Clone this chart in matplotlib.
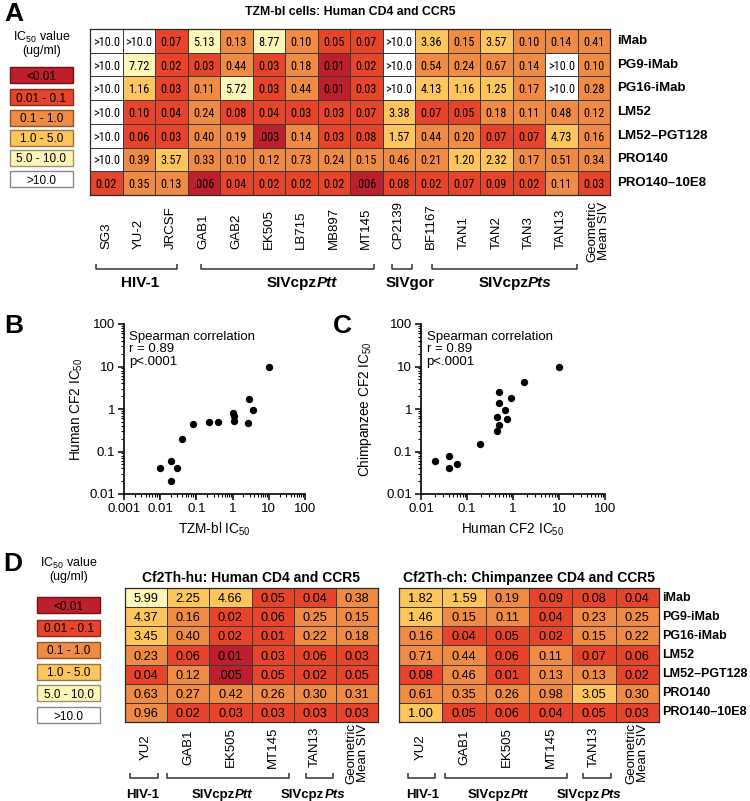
import numpy as np
import matplotlib
matplotlib.use('Agg')
import matplotlib.pyplot as plt
import matplotlib.font_manager as fm
from matplotlib.colors import ListedColormap, BoundaryNorm
from matplotlib.patches import Rectangle
from matplotlib.ticker import LogLocator, NullFormatter, FixedLocator, FuncFormatter

plt.rcParams['font.family'] = ['Liberation Sans', 'DejaVu Sans']
plt.rcParams['mathtext.fontset'] = 'custom'
plt.rcParams['mathtext.rm'] = 'Liberation Sans'
plt.rcParams['mathtext.it'] = 'Liberation Sans:italic'
plt.rcParams['mathtext.bf'] = 'Liberation Sans:bold'

W, H = 750, 801

# ---- data ----
antibodies = ['iMab', 'PG9-iMab', 'PG16-iMab', 'LM52', 'LM52\u2013PGT128', 'PRO140', 'PRO140\u201310E8']

strains_a = ['SG3', 'YU-2', 'JRCSF', 'GAB1', 'GAB2', 'EK505', 'LB715', 'MB897', 'MT145',
             'CP2139', 'BF1167', 'TAN1', 'TAN2', 'TAN3', 'TAN13', 'Geometric\nMean SIV']
tzm_a = [
    ['>10.0', '>10.0', '0.07', '5.13', '0.13', '8.77', '0.10', '0.05', '0.07', '>10.0', '3.36', '0.15', '3.57', '0.10', '0.14', '0.41'],
    ['>10.0', '7.72', '0.02', '0.03', '0.44', '0.03', '0.18', '0.01', '0.02', '>10.0', '0.54', '0.24', '0.67', '0.14', '>10.0', '0.10'],
    ['>10.0', '1.16', '0.03', '0.11', '5.72', '0.03', '0.44', '0.01', '0.03', '>10.0', '4.13', '1.16', '1.25', '0.17', '>10.0', '0.28'],
    ['>10.0', '0.10', '0.04', '0.24', '0.08', '0.04', '0.03', '0.03', '0.07', '3.38', '0.07', '0.05', '0.18', '0.11', '0.48', '0.12'],
    ['>10.0', '0.06', '0.03', '0.40', '0.19', '.003', '0.14', '0.03', '0.08', '1.57', '0.44', '0.20', '0.07', '0.07', '4.73', '0.16'],
    ['>10.0', '0.39', '3.57', '0.33', '0.10', '0.12', '0.73', '0.24', '0.15', '0.46', '0.21', '1.20', '2.32', '0.17', '0.51', '0.34'],
    ['0.02', '0.35', '0.13', '.006', '0.04', '0.02', '0.02', '0.02', '.006', '0.08', '0.02', '0.07', '0.09', '0.02', '0.11', '0.03'],
]
# cells whose colour class differs from the rounded value shown
tzm_a_fix = {(3, 1): 1, (1, 7): 0, (2, 7): 0}

strains_d = ['YU2', 'GAB1', 'EK505', 'MT145', 'TAN13', 'Geometric\nMean SIV']
cf2_hu = [
    ['5.99', '2.25', '4.66', '0.05', '0.04', '0.38'],
    ['4.37', '0.16', '0.02', '0.06', '0.25', '0.15'],
    ['3.45', '0.40', '0.02', '0.01', '0.22', '0.18'],
    ['0.23', '0.06', '0.01', '0.03', '0.06', '0.03'],
    ['0.04', '0.12', '.005', '0.05', '0.02', '0.05'],
    ['0.63', '0.27', '0.42', '0.26', '0.30', '0.31'],
    ['0.96', '0.02', '0.03', '0.03', '0.03', '0.03'],
]
cf2_hu_fix = {(3, 2): 0}
cf2_ch = [
    ['1.82', '1.59', '0.19', '0.09', '0.08', '0.04'],
    ['1.46', '0.15', '0.11', '0.04', '0.23', '0.25'],
    ['0.16', '0.04', '0.05', '0.02', '0.15', '0.22'],
    ['0.71', '0.44', '0.06', '0.11', '0.07', '0.06'],
    ['0.08', '0.46', '0.01', '0.13', '0.13', '0.02'],
    ['0.61', '0.35', '0.26', '0.98', '3.05', '0.30'],
    ['1.00', '0.05', '0.06', '0.04', '0.05', '0.03'],
]
cf2_ch_fix = {}

legend_labels = ['<0.01', '0.01 - 0.1', '0.1 - 1.0', '1.0 - 5.0', '5.0 - 10.0', '>10.0']
level_colors = ['#bd1f2c', '#e6452b', '#f08b45', '#fdc55b', '#fef6b8', '#ffffff']
level_edges = ['#6e1219', '#8a2a1a', '#8f5329', '#98763a', '#98946e', '#8a8a8a']

# scatter B: TZM-bl vs human CF2
tzm_b = [0.01, 0.02, 0.02, 0.03, 0.04, 0.08, 0.23, 0.39, 1.0, 1.12, 1.12, 2.6, 2.9, 3.74, 10.0]
hu_b = [0.04, 0.06, 0.02, 0.04, 0.2, 0.45, 0.5, 0.5, 0.8, 0.67, 0.52, 0.47, 1.75, 0.96, 10.0]
# scatter C: human CF2 vs chimp CF2
hu_c = [0.02, 0.04, 0.04, 0.06, 0.19, 0.44, 0.5, 0.46, 0.75, 0.67, 0.49, 0.5, 0.92, 1.7, 10.0]
ch_c = [0.06, 0.08, 0.04, 0.05, 0.15, 0.31, 0.41, 0.65, 0.585, 0.95, 1.4, 2.57, 1.84, 4.4, 10.0]


def level(s):
    if s.startswith('>'):
        return 5
    v = float(s)
    if v < 0.01:
        return 0
    if v < 0.1:
        return 1
    if v < 1:
        return 2
    if v < 5:
        return 3
    return 4


def frac(l, t, r, b):
    return [l / W, 1 - b / H, (r - l) / W, (b - t) / H]


def narrow_font():
    # the cells in panel A use a condensed face; take one if installed
    cands = []
    for f in fm.fontManager.ttflist:
        n = f.name.lower()
        st = str(f.stretch).lower()
        narrow = ('narrow' in n or 'condensed' in n or 'condensed' in st
                  or 'narrow' in f.fname.lower() or 'condensed' in f.fname.lower())
        if narrow and f.style == 'normal' and f.weight in (400, 'normal', 'regular'):
            cands.append(f)
    pref = ['liberation', 'roboto', 'dejavu', 'noto', 'open']
    cands.sort(key=lambda f: next((i for i, p in enumerate(pref) if p in f.name.lower()), 9))
    if cands:
        return fm.FontProperties(fname=cands[0].fname, size=8.8)
    return fm.FontProperties(family='Liberation Sans', size=7.6)


cmap = ListedColormap(level_colors)
norm = BoundaryNorm(np.arange(-0.5, 6.5, 1), cmap.N)

fig = plt.figure(figsize=(W / 100, H / 100), dpi=100)
ov = fig.add_axes([0, 0, 1, 1], zorder=10)
ov.set_xlim(0, W)
ov.set_ylim(H, 0)
ov.set_axis_off()


def heatmap(l, t, r, b, cells, fix, fprop):
    ax = fig.add_axes(frac(l, t, r, b))
    lev = np.array([[level(s) for s in row] for row in cells])
    for (i, j), v in fix.items():
        lev[i, j] = v
    ax.pcolormesh(lev, cmap=cmap, norm=norm, edgecolors='#3a3a3a', linewidth=0.6)
    nr, nc = lev.shape
    ax.set_xlim(0, nc)
    ax.set_ylim(nr, 0)
    ax.set_xticks([])
    ax.set_yticks([])
    for sp in ax.spines.values():
        sp.set_linewidth(0.9)
        sp.set_color('#2a2a2a')
    for i in range(nr):
        for j in range(nc):
            ax.text(j + 0.5, i + 0.5, cells[i][j], ha='center', va='center_baseline',
                    fontproperties=fprop)
    return ax


def legend(x0, x1, ys, ty):
    ov.text((x0 + x1) / 2, ty, 'IC$_{50}$ value\n(ug/ml)', ha='center', va='top',
            fontsize=9, linespacing=1.0)
    for y, lab, c, e in zip(ys, legend_labels, level_colors, level_edges):
        ov.add_patch(Rectangle((x0, y - 8), x1 - x0, 16, fc=c, ec=e, lw=1))
        ov.text((x0 + x1) / 2, y, lab, ha='center', va='center_baseline', fontsize=8.5)


def bracket(x0, x1, y, h=5):
    ov.plot([x0, x0, x1, x1], [y - h, y, y, y - h], color='#333333', lw=1.1,
            solid_capstyle='butt')


groups = []


def group_label(x, y, plain, ital, fs):
    t1 = ov.text(x, y, plain, ha='left', va='center', fontsize=fs, fontweight='bold')
    t2 = None
    if ital:
        t2 = ov.annotate(ital, xy=(1, 0), xycoords=t1, ha='left', va='bottom',
                         fontsize=fs, fontweight='bold', fontstyle='italic')
    groups.append((t1, t2, x))


# ---- panel A ----
A_l, A_t, A_r, A_b = 90, 29, 610, 195
heatmap(A_l, A_t, A_r, A_b, tzm_a, tzm_a_fix, narrow_font())
ov.text(350, 12, 'TZM-bl cells: Human CD4 and CCR5', ha='center', va='center',
        fontsize=8.8, fontweight='bold')
cw = (A_r - A_l) / len(strains_a)
rh = (A_b - A_t) / len(antibodies)
for j, s in enumerate(strains_a):
    xc = A_l + (j + 0.5) * cw
    if '\n' in s:
        ov.text(xc + 4, 231, s, rotation=90, ha='center', va='center', fontsize=9.5,
                linespacing=0.95)
    else:
        ov.text(xc, 249, s, rotation=90, ha='center', va='bottom', fontsize=9.5)
for i, a in enumerate(antibodies):
    ov.text(617, A_t + (i + 0.5) * rh, a, ha='left', va='center', fontsize=9.5,
            fontweight='bold')
bracket(96, 177, 269)
bracket(201, 374, 269)
bracket(392, 412, 269)
bracket(432, 577, 269)
group_label(140, 283, 'HIV-1', None, 11)
group_label(302, 283, 'SIVcpz', 'Ptt', 11)
group_label(410, 283, 'SIVgor', None, 11)
group_label(515, 283, 'SIVcpz', 'Pts', 11)
legend(10, 73, [75, 97, 118, 138, 158, 179], 30)

# ---- panel D ----
D1 = (125, 588, 378, 722)
D2 = (399, 588, 659, 722)
cell_d = fm.FontProperties(family='Liberation Sans', size=9.2)
heatmap(*D1, cf2_hu, cf2_hu_fix, cell_d)
heatmap(*D2, cf2_ch, cf2_ch_fix, cell_d)
ov.text((D1[0] + D1[2]) / 2, 578, 'Cf2Th-hu: Human CD4 and CCR5', ha='center',
        va='center', fontsize=10, fontweight='bold')
ov.text((D2[0] + D2[2]) / 2, 578, 'Cf2Th-ch: Chimpanzee CD4 and CCR5', ha='center',
        va='center', fontsize=10, fontweight='bold')
for (l, t, r, b) in (D1, D2):
    dw = (r - l) / len(strains_d)
    for j, s in enumerate(strains_d):
        yc = 753 if '\n' in s else 747
        ov.text(l + (j + 0.5) * dw, yc, s, rotation=90, ha='center', va='center',
                fontsize=9.5, linespacing=0.95)
dh = (D2[3] - D2[1]) / len(antibodies)
for i, a in enumerate(antibodies):
    ov.text(662, D2[1] + (i + 0.5) * dh, a, ha='left', va='center', fontsize=9,
            fontweight='bold')
for hv, ptt, pts in (((130, 158), (167, 289), (306, 333)),
                     ((408, 435), (445, 567), (583, 611))):
    bracket(*hv, 778)
    bracket(*ptt, 778)
    bracket(*pts, 778)
group_label(143, 795, 'HIV-1', None, 9.5)
group_label(222, 795, 'SIVcpz', 'Ptt', 9.5)
group_label(313, 795, 'SIVcpz', 'Pts', 9.5)
group_label(423, 795, 'HIV-1', None, 9.5)
group_label(498, 795, 'SIVcpz', 'Ptt', 9.5)
group_label(589, 795, 'SIVcpz', 'Pts', 9.5)
legend(37, 100, [605, 628, 650, 672, 693, 715], 556)


# ---- panels B and C ----
def scatter(l, t, r, b, x, y, xlim, xlabel, ylabel, ypad, xpad):
    ax = fig.add_axes(frac(l, t, r, b))
    ax.scatter(x, y, s=28, color='black', linewidths=0, clip_on=False, zorder=3)
    ax.set_xscale('log')
    ax.set_yscale('log')
    for a, lim in ((ax.xaxis, xlim), (ax.yaxis, (0.01, 100))):
        dec = np.arange(round(np.log10(lim[0])), round(np.log10(lim[1])) + 1)
        a.set_major_locator(FixedLocator(10.0 ** dec))
        a.set_minor_locator(LogLocator(base=10, subs=np.arange(2, 10), numticks=100))
        a.set_minor_formatter(NullFormatter())
        a.set_major_formatter(FuncFormatter(lambda v, p: '%g' % v))
    ax.set_xlim(*xlim)
    ax.set_ylim(0.01, 100)
    ax.spines['top'].set_visible(False)
    ax.spines['right'].set_visible(False)
    for sp in ('left', 'bottom'):
        ax.spines[sp].set_linewidth(1.2)
    ax.tick_params(which='major', length=4.5, width=1.1, labelsize=9.5, pad=2)
    ax.tick_params(which='minor', length=2.5, width=0.8)
    ax.set_xlabel(xlabel, fontsize=9.8, labelpad=xpad)
    ax.set_ylabel(ylabel, fontsize=9.8, labelpad=ypad)
    ax.text(0.03, 0.96, 'Spearman correlation\nr = 0.89\np<.0001', transform=ax.transAxes,
            ha='left', va='top', fontsize=9.5, linespacing=1.05)
    return ax


scatter(124, 324, 305, 494, tzm_b, hu_b, (0.001, 100), 'TZM-bl IC$_{50}$',
        'Human CF2 IC$_{50}$', 3, 4)
scatter(421, 324, 605, 494, hu_c, ch_c, (0.01, 100), 'Human CF2 IC$_{50}$',
        'Chimpanzee CF2 IC$_{50}$', 9, 5)

# panel letters
for x, y, s in ((4, 2, 'A'), (4, 314, 'B'), (333, 314, 'C'), (3, 552, 'D')):
    ov.text(x, y, s, ha='left', va='top', fontsize=19, fontweight='bold')

# centre the two-part group labels
fig.canvas.draw()
for t1, t2, x in groups:
    w = t1.get_window_extent().width
    if t2 is not None:
        w += t2.get_window_extent().width
    t1.set_x(x - w / 2)

fig.savefig('out.png', dpi=100)
